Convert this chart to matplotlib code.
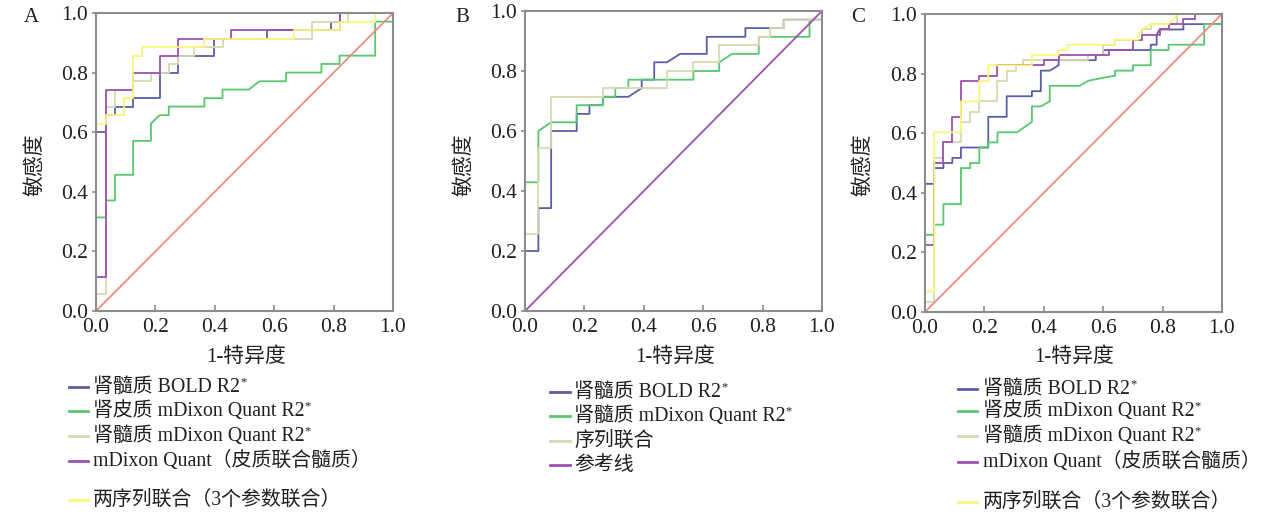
import matplotlib
matplotlib.use('Agg')
import matplotlib.pyplot as plt
from matplotlib.lines import Line2D

FAM = ['Liberation Serif', 'Noto Sans CJK SC', 'DejaVu Sans']
plt.rcParams['font.family'] = FAM

W, H = 1271, 519

# ---------------- data ----------------
# Panel A
A_bold_x = [0, 0, 0.034, 0.034, 0.064, 0.064, 0.125, 0.125, 0.214, 0.214, 0.275, 0.275, 0.396, 0.396, 0.576, 0.576, 0.79, 0.79, 0.82, 0.82, 1.0]
A_bold_y = [0, 0.6, 0.6, 0.657, 0.657, 0.686, 0.686, 0.714, 0.714, 0.8, 0.8, 0.857, 0.857, 0.914, 0.914, 0.943, 0.943, 0.971, 0.971, 1.0, 1.0]
A_cortex_x = [0, 0, 0.034, 0.034, 0.064, 0.064, 0.125, 0.125, 0.185, 0.185, 0.214, 0.245, 0.245, 0.365, 0.365, 0.426, 0.426, 0.515, 0.55, 0.64, 0.64, 0.759, 0.759, 0.82, 0.82, 0.94, 0.94, 1.0, 1.0]
A_cortex_y = [0, 0.314, 0.314, 0.371, 0.371, 0.457, 0.457, 0.571, 0.571, 0.629, 0.657, 0.657, 0.686, 0.686, 0.714, 0.714, 0.743, 0.743, 0.771, 0.771, 0.8, 0.8, 0.829, 0.829, 0.857, 0.857, 0.971, 0.971, 1.0]
A_medulla_x = [0, 0, 0.034, 0.034, 0.064, 0.064, 0.125, 0.125, 0.185, 0.185, 0.245, 0.245, 0.275, 0.275, 0.33, 0.33, 0.426, 0.426, 0.727, 0.727, 0.85, 0.85, 1.0]
A_medulla_y = [0, 0.057, 0.057, 0.686, 0.686, 0.743, 0.743, 0.771, 0.771, 0.8, 0.8, 0.829, 0.829, 0.857, 0.857, 0.886, 0.886, 0.914, 0.914, 0.971, 0.971, 1.0, 1.0]
A_mdixon_x = [0, 0, 0.034, 0.034, 0.125, 0.125, 0.214, 0.214, 0.275, 0.275, 0.455, 0.455, 0.82, 0.82, 1.0]
A_mdixon_y = [0, 0.114, 0.114, 0.743, 0.743, 0.8, 0.8, 0.857, 0.857, 0.914, 0.914, 0.943, 0.943, 1.0, 1.0]
A_both_x = [0, 0, 0.034, 0.034, 0.093, 0.093, 0.125, 0.125, 0.155, 0.155, 0.365, 0.365, 0.665, 0.665, 0.82, 0.82, 0.94, 0.94, 1.0]
A_both_y = [0, 0.629, 0.629, 0.657, 0.657, 0.714, 0.714, 0.857, 0.857, 0.886, 0.886, 0.914, 0.914, 0.943, 0.943, 0.971, 0.971, 1.0, 1.0]

# Panel B
B_bold_x = [0, 0, 0.045, 0.045, 0.088, 0.088, 0.174, 0.174, 0.217, 0.217, 0.262, 0.262, 0.348, 0.393, 0.393, 0.435, 0.435, 0.478, 0.522, 0.612, 0.612, 0.742, 0.742, 0.871, 0.871, 1.0, 1.0]
B_bold_y = [0, 0.2, 0.2, 0.343, 0.343, 0.6, 0.6, 0.657, 0.657, 0.686, 0.686, 0.714, 0.714, 0.743, 0.771, 0.771, 0.829, 0.829, 0.857, 0.857, 0.914, 0.914, 0.943, 0.943, 0.971, 0.971, 1.0]
B_mdixon_x = [0, 0, 0.045, 0.045, 0.088, 0.174, 0.174, 0.262, 0.262, 0.304, 0.304, 0.348, 0.348, 0.567, 0.567, 0.654, 0.654, 0.697, 0.787, 0.787, 0.958, 0.958, 1.0, 1.0]
B_mdixon_y = [0, 0.429, 0.429, 0.6, 0.629, 0.629, 0.686, 0.686, 0.714, 0.714, 0.743, 0.743, 0.771, 0.771, 0.8, 0.8, 0.829, 0.857, 0.857, 0.914, 0.914, 0.971, 0.971, 1.0]
B_comb_x = [0, 0, 0.045, 0.045, 0.088, 0.088, 0.262, 0.262, 0.478, 0.478, 0.567, 0.567, 0.654, 0.654, 0.787, 0.787, 0.826, 0.826, 0.871, 0.871, 1.0, 1.0]
B_comb_y = [0, 0.257, 0.257, 0.543, 0.543, 0.714, 0.714, 0.743, 0.743, 0.8, 0.8, 0.829, 0.829, 0.886, 0.886, 0.914, 0.914, 0.943, 0.943, 0.971, 0.971, 1.0]

# Panel C
C_bold_x = [0, 0, 0.031, 0.031, 0.062, 0.062, 0.092, 0.092, 0.121, 0.121, 0.213, 0.213, 0.275, 0.275, 0.36, 0.36, 0.39, 0.39, 0.42, 0.45, 0.45, 0.575, 0.575, 0.6, 0.6, 0.76, 0.76, 0.78, 0.78, 0.79, 0.87, 0.87, 1.0, 1.0]
C_bold_y = [0, 0.43, 0.43, 0.483, 0.483, 0.5, 0.5, 0.517, 0.517, 0.552, 0.552, 0.655, 0.655, 0.724, 0.724, 0.741, 0.741, 0.81, 0.81, 0.828, 0.845, 0.845, 0.862, 0.862, 0.879, 0.879, 0.897, 0.897, 0.931, 0.948, 0.948, 0.966, 0.966, 1.0]
C_cortex_x = [0, 0, 0.031, 0.031, 0.062, 0.062, 0.121, 0.121, 0.152, 0.152, 0.183, 0.183, 0.213, 0.213, 0.244, 0.244, 0.31, 0.36, 0.36, 0.39, 0.42, 0.42, 0.52, 0.55, 0.6, 0.64, 0.64, 0.7, 0.7, 0.76, 0.76, 0.82, 0.82, 0.94, 0.94, 1.0, 1.0]
C_cortex_y = [0, 0.259, 0.259, 0.293, 0.293, 0.362, 0.362, 0.483, 0.483, 0.5, 0.5, 0.552, 0.552, 0.569, 0.569, 0.603, 0.603, 0.638, 0.69, 0.69, 0.707, 0.759, 0.759, 0.776, 0.786, 0.793, 0.81, 0.81, 0.828, 0.828, 0.879, 0.879, 0.897, 0.897, 0.966, 0.966, 1.0]
C_medulla_x = [0, 0, 0.031, 0.031, 0.062, 0.062, 0.121, 0.121, 0.152, 0.152, 0.183, 0.183, 0.244, 0.244, 0.275, 0.275, 0.305, 0.305, 0.33, 0.33, 0.55, 0.55, 0.6, 0.6, 0.64, 0.64, 0.73, 0.73, 0.76, 0.76, 0.85, 0.85, 1.0]
C_medulla_y = [0, 0.034, 0.034, 0.517, 0.517, 0.569, 0.569, 0.638, 0.638, 0.672, 0.672, 0.707, 0.707, 0.776, 0.776, 0.81, 0.81, 0.828, 0.828, 0.845, 0.845, 0.862, 0.862, 0.897, 0.897, 0.914, 0.914, 0.948, 0.948, 0.966, 0.966, 1.0, 1.0]
C_mdixon_x = [0, 0, 0.031, 0.031, 0.062, 0.062, 0.092, 0.092, 0.121, 0.121, 0.183, 0.183, 0.244, 0.244, 0.4, 0.4, 0.45, 0.45, 0.62, 0.62, 0.7, 0.7, 0.73, 0.73, 0.79, 0.79, 0.82, 0.82, 0.87, 0.87, 0.91, 0.91, 1.0]
C_mdixon_y = [0, 0.224, 0.224, 0.5, 0.5, 0.569, 0.569, 0.655, 0.655, 0.776, 0.776, 0.793, 0.793, 0.828, 0.828, 0.845, 0.845, 0.862, 0.862, 0.879, 0.879, 0.914, 0.914, 0.931, 0.931, 0.948, 0.948, 0.966, 0.966, 0.983, 0.983, 1.0, 1.0]
C_both_x = [0, 0, 0.031, 0.031, 0.121, 0.121, 0.183, 0.183, 0.213, 0.213, 0.36, 0.36, 0.45, 0.45, 0.48, 0.48, 0.64, 0.64, 0.72, 0.72, 0.73, 0.76, 0.82, 0.85, 1.0]
C_both_y = [0, 0.069, 0.069, 0.603, 0.603, 0.707, 0.707, 0.776, 0.776, 0.828, 0.828, 0.862, 0.862, 0.879, 0.879, 0.897, 0.897, 0.914, 0.914, 0.931, 0.948, 0.966, 0.966, 1.0, 1.0]

ref_x = [0, 1]
ref_y = [0, 1]

tick_vals = [0.0, 0.2, 0.4, 0.6, 0.8, 1.0]
tick_labels = ['0.0', '0.2', '0.4', '0.6', '0.8', '1.0']

lab_bold = '肾髓质 BOLD R2'
lab_cortex = '肾皮质 mDixon Quant R2'
lab_medulla = '肾髓质 mDixon Quant R2'
lab_mdixon = 'mDixon Quant（皮质联合髓质）'
lab_both = '两序列联合（3个参数联合）'
lab_B_mdixon = '肾髓质 mDixon Quant R2'
lab_B_comb = '序列联合'
lab_B_ref = '参考线'

# ---------------- styles ----------------
C_BLUE = '#5b5ea6'
C_GREEN = '#55c870'
C_KHAKI = '#d8d8b0'
C_PURPLE = '#9c52ae'
C_YELLOW = '#f7f77a'
C_RED = '#f08a84'
TXT = '#231f20'
SPINE = '#8c8c8c'
LW = 1.3

fig = plt.figure(figsize=(W / 100, H / 100), dpi=100)


def rect(l, r, t, b):
    return [l / W, 1 - b / H, (r - l) / W, (b - t) / H]


def fx(x):
    return x / W


def fy(y):
    return 1 - y / H


def setup(ax):
    ax.set_xlim(0, 1)
    ax.set_ylim(0, 1)
    ax.set_xticks(tick_vals)
    ax.set_yticks(tick_vals)
    ax.set_xticklabels(tick_labels)
    ax.set_yticklabels(tick_labels)
    for s in ax.spines.values():
        s.set_color(SPINE)
        s.set_linewidth(1.5)
    ax.tick_params(axis='y', direction='out', length=3, width=1.2, color=SPINE,
                   labelsize=15.5, labelcolor=TXT, pad=2.5)
    ax.tick_params(axis='x', direction='in', length=4, width=1.2, color=SPINE,
                   labelsize=15.5, labelcolor=TXT, pad=5)
    for t in ax.get_xticklabels() + ax.get_yticklabels():
        t.set_family(FAM)


axA = fig.add_axes(rect(96, 393, 13, 311))
axB = fig.add_axes(rect(525, 822, 11, 311))
axC = fig.add_axes(rect(925, 1222, 14, 312))
for ax in (axA, axB, axC):
    setup(ax)

axA.plot(A_bold_x, A_bold_y, color=C_BLUE, lw=LW)
axA.plot(A_cortex_x, A_cortex_y, color=C_GREEN, lw=LW)
axA.plot(A_medulla_x, A_medulla_y, color=C_KHAKI, lw=LW)
axA.plot(A_mdixon_x, A_mdixon_y, color=C_PURPLE, lw=LW)
axA.plot(A_both_x, A_both_y, color=C_YELLOW, lw=LW)
axA.plot(ref_x, ref_y, color=C_RED, lw=LW)

axB.plot(B_bold_x, B_bold_y, color=C_BLUE, lw=LW)
axB.plot(B_mdixon_x, B_mdixon_y, color=C_GREEN, lw=LW)
axB.plot(B_comb_x, B_comb_y, color=C_KHAKI, lw=LW)
axB.plot(ref_x, ref_y, color=C_PURPLE, lw=LW)

axC.plot(C_bold_x, C_bold_y, color=C_BLUE, lw=LW)
axC.plot(C_cortex_x, C_cortex_y, color=C_GREEN, lw=LW)
axC.plot(C_medulla_x, C_medulla_y, color=C_KHAKI, lw=LW)
axC.plot(C_mdixon_x, C_mdixon_y, color=C_PURPLE, lw=LW)
axC.plot(C_both_x, C_both_y, color=C_YELLOW, lw=LW)
axC.plot(ref_x, ref_y, color=C_RED, lw=LW)

# panel letters, axis titles
for letter, x, y in (('A', 31, 18), ('B', 462, 17), ('C', 858, 18)):
    fig.text(fx(x), fy(y), letter, ha='center', va='center', fontsize=15,
             color=TXT, family=FAM)
for x in (246, 675, 1074):
    fig.text(fx(x), fy(357), '1-特异度', ha='center', va='center', fontsize=15,
             color=TXT, family=FAM)
for x in (35, 464, 863):
    fig.text(fx(x), fy(165), '敏感度', ha='center', va='center', rotation=90,
             fontsize=15, color=TXT, family=FAM)


def legend_entry(x0, x1, xt, y, color, label, star):
    fig.add_artist(Line2D([fx(x0), fx(x1)], [fy(y), fy(y)], color=color, lw=2.0,
                          transform=fig.transFigure))
    t = fig.text(fx(xt), fy(y), label, ha='left', va='center', fontsize=14.3,
                 color=TXT, family=FAM)
    if star:
        axA.annotate('*', xy=(1.0, 1.05), xycoords=t, ha='left', va='top',
                     fontsize=9, color=TXT, family=FAM, annotation_clip=False)
    return t


# Legend A
legend_entry(69, 88, 93, 387, C_BLUE, lab_bold, True)
legend_entry(69, 88, 93, 411, C_GREEN, lab_cortex, True)
legend_entry(69, 88, 93, 436, C_KHAKI, lab_medulla, True)
legend_entry(69, 88, 93, 461, C_PURPLE, lab_mdixon, False)
legend_entry(69, 88, 93, 500, C_YELLOW, lab_both, False)

# Legend B
legend_entry(550, 570, 574, 392, C_BLUE, lab_bold, True)
legend_entry(550, 570, 574, 416, C_GREEN, lab_B_mdixon, True)
legend_entry(550, 570, 574, 441, C_KHAKI, lab_B_comb, False)
legend_entry(550, 570, 574, 465, C_PURPLE, lab_B_ref, False)

# Legend C
legend_entry(958, 977, 983, 389, C_BLUE, lab_bold, True)
legend_entry(958, 977, 983, 411, C_GREEN, lab_cortex, True)
legend_entry(958, 977, 983, 436, C_KHAKI, lab_medulla, True)
legend_entry(958, 977, 983, 462, C_PURPLE, lab_mdixon, False)
legend_entry(958, 977, 983, 502, C_YELLOW, lab_both, False)

fig.savefig('out.png', dpi=100)
